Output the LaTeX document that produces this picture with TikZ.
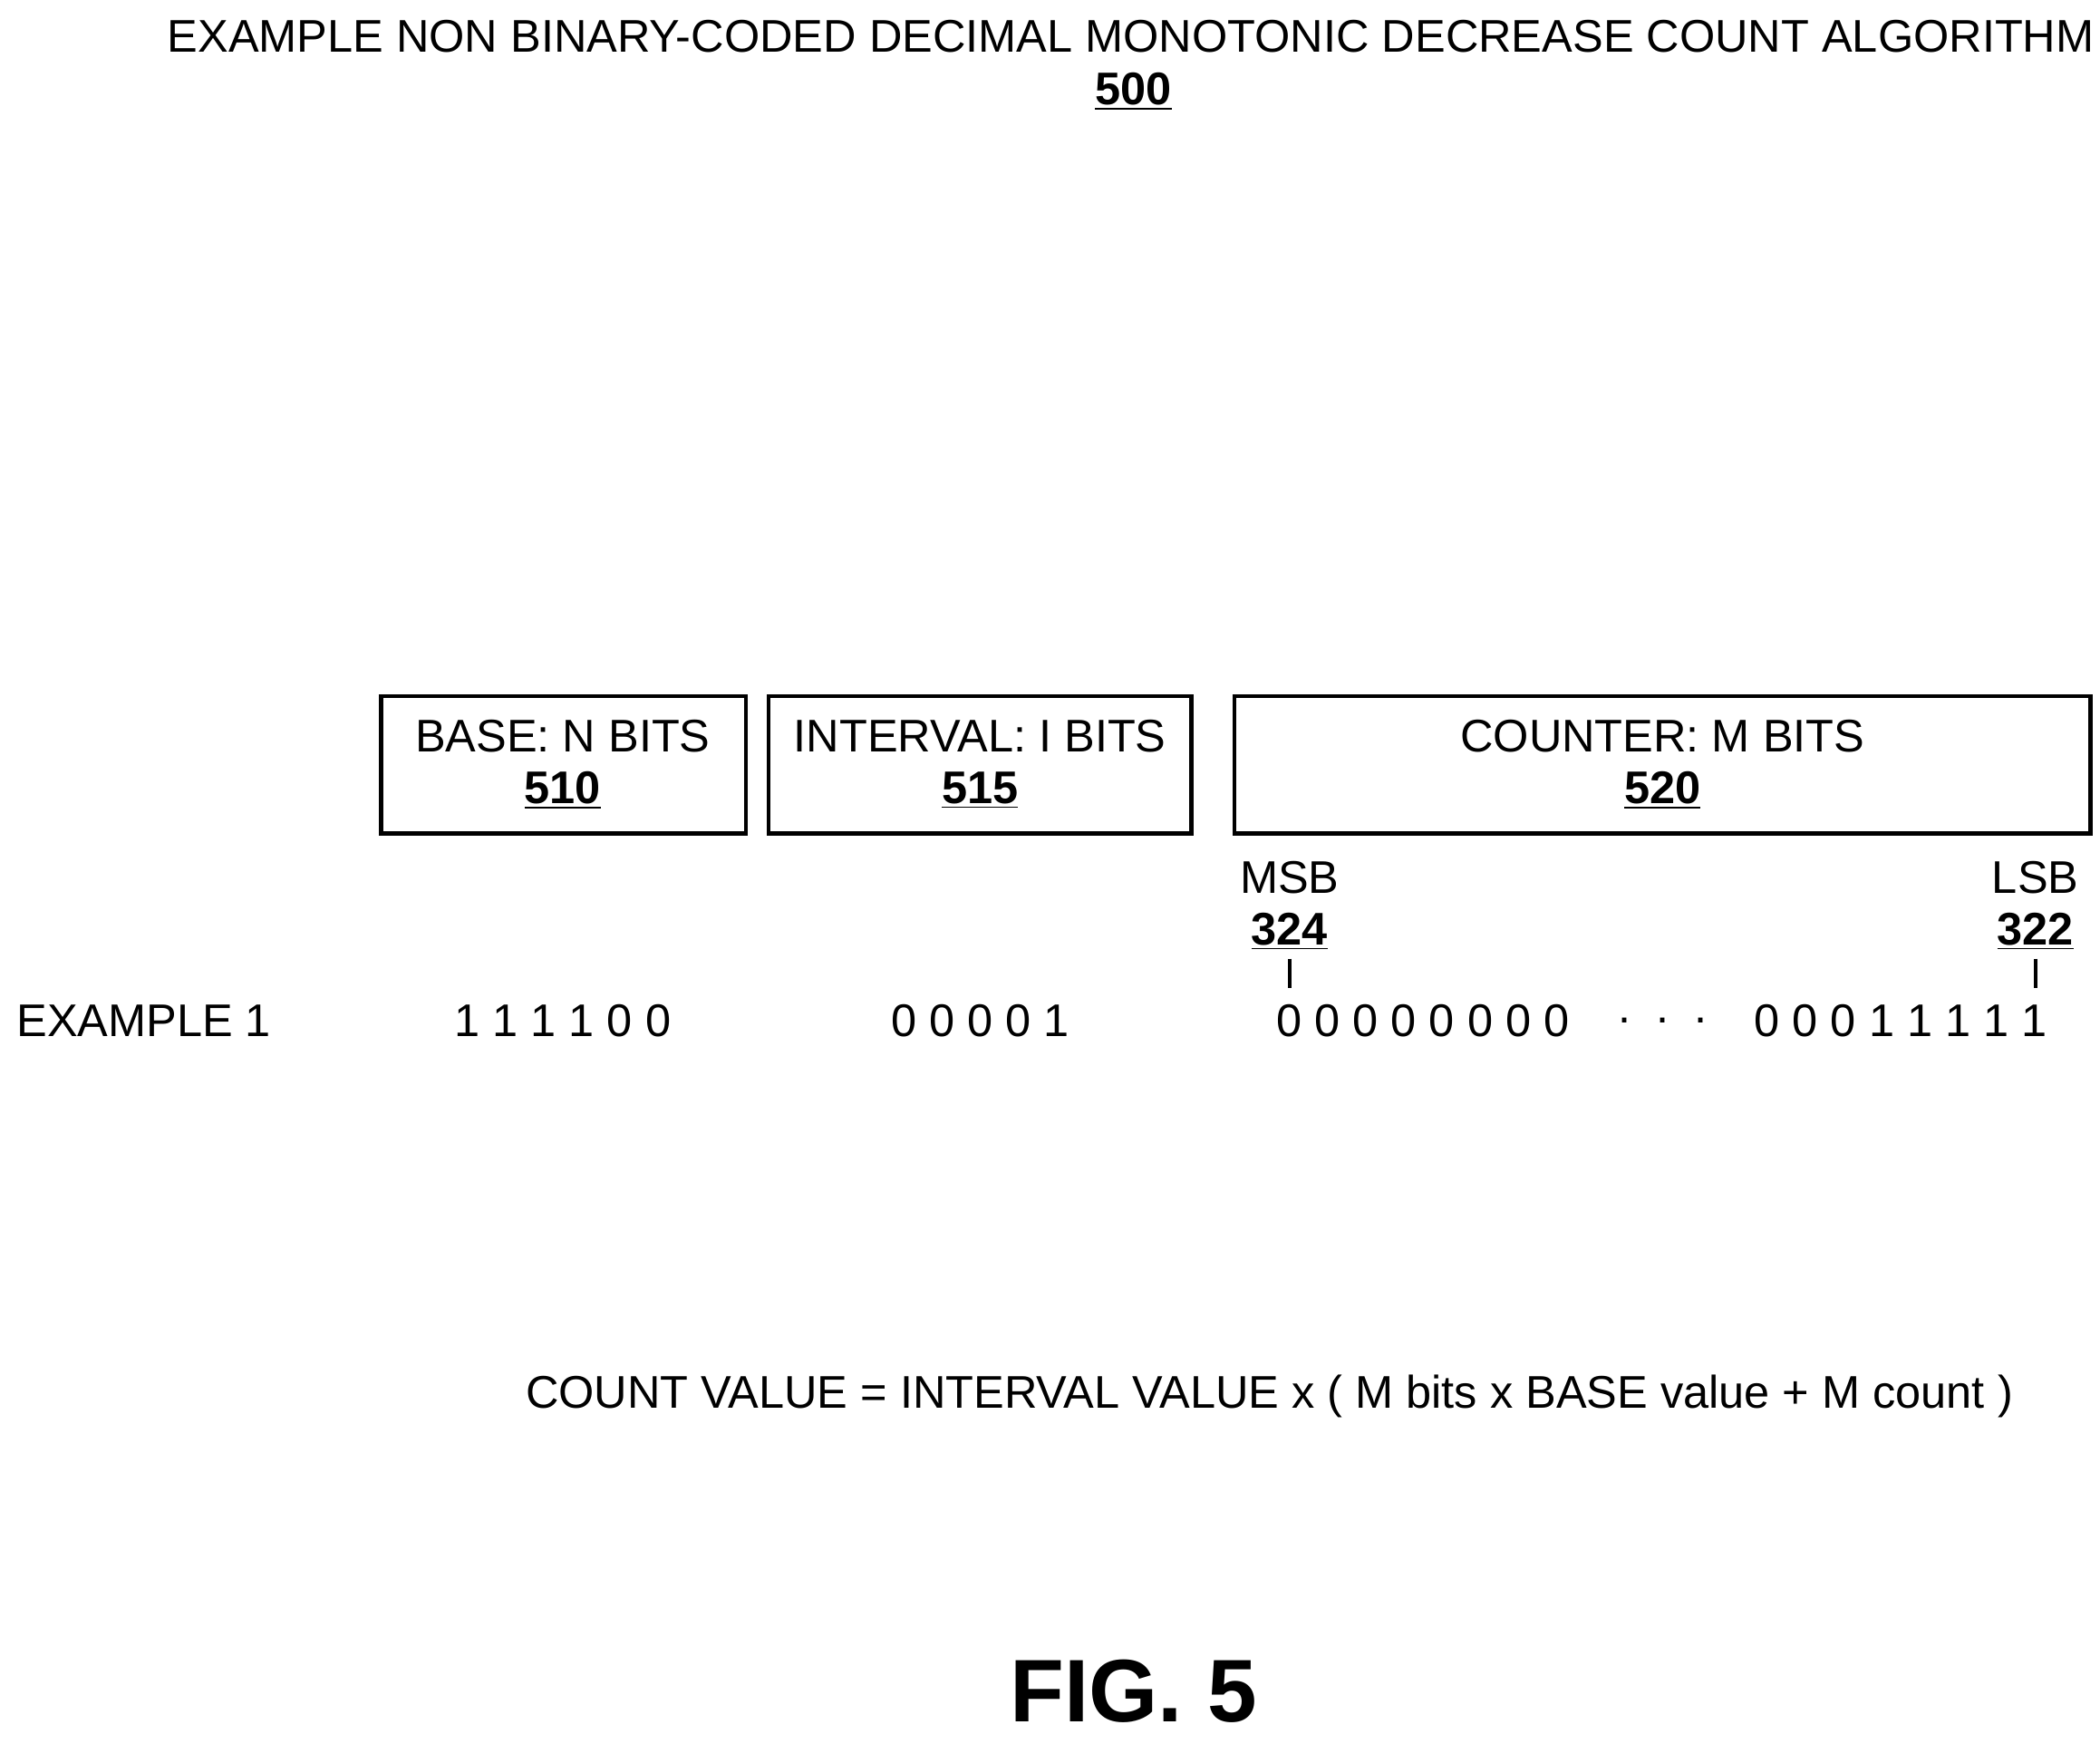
\documentclass[tikz,border=0pt]{standalone}
\usepackage{fontspec}
\setmainfont{Liberation Sans}
\begin{document}
\begin{tikzpicture}[x=0.5pt,y=-0.5pt,
  txt/.style={font=\fontsize{17}{20}\selectfont,inner sep=0pt},
  box/.style={draw,line width=1.5pt},
  num/.style={txt,font=\fontsize{17}{20}\selectfont\bfseries}]
\useasboundingbox (0,0) rectangle (1560,1295);
\node[txt] (title) at (840,27) {EXAMPLE NON BINARY-CODED DECIMAL MONOTONIC DECREASE COUNT ALGORITHM};
\node[num] (n500) at (842,68) {\underline{500}};
\draw[box] (283,517) rectangle (554,619);
\draw[box] (571,517) rectangle (885,619);
\draw[box] (917,517) rectangle (1553,619);
\node[txt] (b1) at (418,547) {BASE: N BITS};
\node[num] (b2) at (418,587) {\underline{510}};
\node[txt] (i1) at (728,547) {INTERVAL: I BITS};
\node[num] (i2) at (728,587) {\underline{515}};
\node[txt] (c1) at (1235,547) {COUNTER: M BITS};
\node[num] (c2) at (1235,587) {\underline{520}};
\node[txt] (msb) at (958,652) {MSB};
\node[num] (n324) at (958,692) {\underline{324}};
\node[txt] (lsb) at (1512,652) {LSB};
\node[num] (n322) at (1512,692) {\underline{322}};
\coordinate (t1a) at (958,712); \coordinate (t1b) at (958,734);
\coordinate (t2a) at (1512,712); \coordinate (t2b) at (1512,734);
\draw[line width=1.2pt] (t1a) -- (t1b);
\draw[line width=1.2pt] (t2a) -- (t2b);
\node[txt,anchor=west] (ex) at (12,758) {EXAMPLE 1};
\node[txt] (v1) at (418,758) {1\ 1\ 1\ 1\ 0\ 0};
\node[txt] (v2) at (728,758) {0\ 0\ 0\ 0\ 1};
\node[txt] (v3) at (1057,758) {0\ 0\ 0\ 0\ 0\ 0\ 0\ 0};
\node[txt] (v4) at (1235,758) {.\ \ .\ \ .};
\node[txt] (v5) at (1412,758) {0\ 0\ 0\ 1\ 1\ 1\ 1\ 1};
\node[txt] (f) at (943,1037) {COUNT VALUE = INTERVAL VALUE x ( M bits x BASE value + M count )};
\node[txt,font=\fontsize{33}{38}\selectfont\bfseries] (fig) at (842,1256) {FIG. 5};
\end{tikzpicture}
\end{document}
